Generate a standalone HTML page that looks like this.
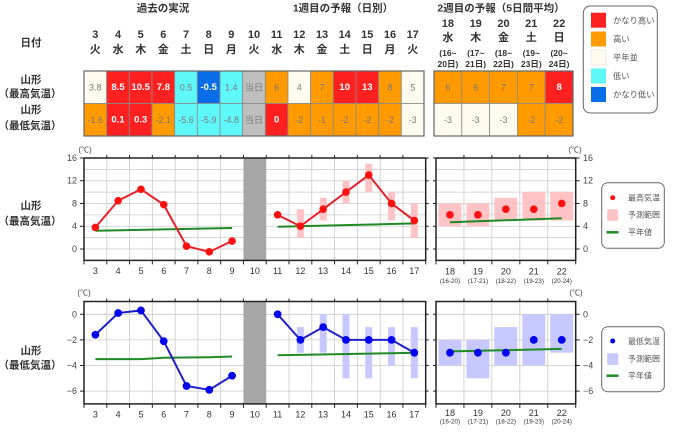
<!DOCTYPE html>
<html><head><meta charset="utf-8">
<style>
html,body{margin:0;padding:0;background:#fff;}
svg{display:block;font-family:"Liberation Sans","Noto Sans CJK JP",sans-serif;}
</style></head>
<body>
<svg width="680" height="434" viewBox="0 0 680 434" xmlns="http://www.w3.org/2000/svg">
<rect width="680" height="434" fill="#fff"/>

<!-- Section titles -->
<g font-size="10.5" font-weight="bold" fill="#333" text-anchor="middle" dominant-baseline="central">
<text x="163" y="8.5">過去の実況</text>
<text x="343" y="8.5">1週目の予報（日別）</text>
<text x="501" y="8.5">2週目の予報（5日間平均）</text>
<text x="31" y="43">日付</text>
</g>

<!-- Day headers table 1 -->
<g font-size="11" font-weight="bold" fill="#333" text-anchor="middle" dominant-baseline="central">
<text x="95.3" y="35">3</text><text x="95.3" y="50">火</text>
<text x="118" y="35">4</text><text x="118" y="50">水</text>
<text x="140.7" y="35">5</text><text x="140.7" y="50">木</text>
<text x="163.3" y="35">6</text><text x="163.3" y="50">金</text>
<text x="186" y="35">7</text><text x="186" y="50">土</text>
<text x="208.7" y="35">8</text><text x="208.7" y="50">日</text>
<text x="231.3" y="35">9</text><text x="231.3" y="50">月</text>
<text x="254" y="35">10</text><text x="254" y="50">火</text>
<text x="276.7" y="35">11</text><text x="276.7" y="50">水</text>
<text x="299.3" y="35">12</text><text x="299.3" y="50">木</text>
<text x="322" y="35">13</text><text x="322" y="50">金</text>
<text x="344.7" y="35">14</text><text x="344.7" y="50">土</text>
<text x="367.3" y="35">15</text><text x="367.3" y="50">日</text>
<text x="390" y="35">16</text><text x="390" y="50">月</text>
<text x="412.7" y="35">17</text><text x="412.7" y="50">火</text>
</g>
<!-- Day headers table 2 -->
<g font-weight="bold" fill="#333" text-anchor="middle" dominant-baseline="central">
<g font-size="11">
<text x="447.9" y="24">18</text><text x="447.9" y="38">水</text>
<text x="475.7" y="24">19</text><text x="475.7" y="38">木</text>
<text x="503.5" y="24">20</text><text x="503.5" y="38">金</text>
<text x="531.3" y="24">21</text><text x="531.3" y="38">土</text>
<text x="559.1" y="24">22</text><text x="559.1" y="38">日</text>
</g>
<g font-size="8.5">
<text x="447.9" y="53">(16~</text><text x="447.9" y="64">20日)</text>
<text x="475.7" y="53">(17~</text><text x="475.7" y="64">21日)</text>
<text x="503.5" y="53">(18~</text><text x="503.5" y="64">22日)</text>
<text x="531.3" y="53">(19~</text><text x="531.3" y="64">23日)</text>
<text x="559.1" y="53">(20~</text><text x="559.1" y="64">24日)</text>
</g>
</g>

<!-- Row labels -->
<g font-size="10.5" font-weight="bold" fill="#333" text-anchor="middle" dominant-baseline="central">
<text x="31" y="80">山形</text><text x="30" y="94">（最高気温）</text>
<text x="31" y="110">山形</text><text x="30" y="126">（最低気温）</text>
<text x="31" y="206">山形</text><text x="30" y="221.5">（最高気温）</text>
<text x="31" y="351">山形</text><text x="30" y="365.5">（最低気温）</text>
</g>

<!-- Table 1 cells -->
<g stroke="#8a8a8a" stroke-width="0.8">
<rect x="84" y="71" width="22.67" height="32.5" fill="#fffcef"/>
<rect x="106.67" y="71" width="22.67" height="32.5" fill="#ff2020"/>
<rect x="129.33" y="71" width="22.67" height="32.5" fill="#ff2020"/>
<rect x="152" y="71" width="22.67" height="32.5" fill="#ff2020"/>
<rect x="174.67" y="71" width="22.67" height="32.5" fill="#5ff8f8"/>
<rect x="197.33" y="71" width="22.67" height="32.5" fill="#0a6de8"/>
<rect x="220" y="71" width="22.67" height="32.5" fill="#5ff8f8"/>
<rect x="242.67" y="71" width="22.67" height="32.5" fill="#bfbfbf"/>
<rect x="265.33" y="71" width="22.67" height="32.5" fill="#ff9a00"/>
<rect x="288" y="71" width="22.67" height="32.5" fill="#fffcef"/>
<rect x="310.67" y="71" width="22.67" height="32.5" fill="#ff9a00"/>
<rect x="333.33" y="71" width="22.67" height="32.5" fill="#ff2020"/>
<rect x="356" y="71" width="22.67" height="32.5" fill="#ff2020"/>
<rect x="378.67" y="71" width="22.67" height="32.5" fill="#ff9a00"/>
<rect x="401.33" y="71" width="22.67" height="32.5" fill="#fffcef"/>

<rect x="84" y="103.5" width="22.67" height="32.5" fill="#ff9a00"/>
<rect x="106.67" y="103.5" width="22.67" height="32.5" fill="#ff2020"/>
<rect x="129.33" y="103.5" width="22.67" height="32.5" fill="#ff2020"/>
<rect x="152" y="103.5" width="22.67" height="32.5" fill="#ff9a00"/>
<rect x="174.67" y="103.5" width="22.67" height="32.5" fill="#5ff8f8"/>
<rect x="197.33" y="103.5" width="22.67" height="32.5" fill="#5ff8f8"/>
<rect x="220" y="103.5" width="22.67" height="32.5" fill="#5ff8f8"/>
<rect x="242.67" y="103.5" width="22.67" height="32.5" fill="#bfbfbf"/>
<rect x="265.33" y="103.5" width="22.67" height="32.5" fill="#ff2020"/>
<rect x="288" y="103.5" width="22.67" height="32.5" fill="#ff9a00"/>
<rect x="310.67" y="103.5" width="22.67" height="32.5" fill="#ff9a00"/>
<rect x="333.33" y="103.5" width="22.67" height="32.5" fill="#ff9a00"/>
<rect x="356" y="103.5" width="22.67" height="32.5" fill="#ff9a00"/>
<rect x="378.67" y="103.5" width="22.67" height="32.5" fill="#ff9a00"/>
<rect x="401.33" y="103.5" width="22.67" height="32.5" fill="#fffcef"/>
</g>
<rect x="84" y="71" width="340" height="65" fill="none" stroke="#666" stroke-width="1.2"/>

<!-- Table 2 cells -->
<g stroke="#8a8a8a" stroke-width="0.8">
<rect x="434" y="71" width="27.8" height="32.5" fill="#ff9a00"/>
<rect x="461.8" y="71" width="27.8" height="32.5" fill="#ff9a00"/>
<rect x="489.6" y="71" width="27.8" height="32.5" fill="#ff9a00"/>
<rect x="517.4" y="71" width="27.8" height="32.5" fill="#ff9a00"/>
<rect x="545.2" y="71" width="27.8" height="32.5" fill="#ff2020"/>
<rect x="434" y="103.5" width="27.8" height="32.5" fill="#fffcef"/>
<rect x="461.8" y="103.5" width="27.8" height="32.5" fill="#fffcef"/>
<rect x="489.6" y="103.5" width="27.8" height="32.5" fill="#fffcef"/>
<rect x="517.4" y="103.5" width="27.8" height="32.5" fill="#ff9a00"/>
<rect x="545.2" y="103.5" width="27.8" height="32.5" fill="#ff9a00"/>
</g>
<rect x="434" y="71" width="139" height="65" fill="none" stroke="#666" stroke-width="1.2"/>

<!-- Table text -->
<g font-size="9" text-anchor="middle" dominant-baseline="central">
<g fill="#7a7a7a">
<text x="95.3" y="87.5">3.8</text>
<text x="186" y="87.5">0.5</text>
<text x="231.3" y="87.5">1.4</text>
<text x="254" y="87.5">当日</text>
<text x="276.7" y="87.5">6</text>
<text x="299.3" y="87.5">4</text>
<text x="322" y="87.5">7</text>
<text x="390" y="87.5">8</text>
<text x="412.7" y="87.5">5</text>
<text x="95.3" y="120">-1.6</text>
<text x="163.3" y="120">-2.1</text>
<text x="186" y="120">-5.6</text>
<text x="208.7" y="120">-5.9</text>
<text x="231.3" y="120">-4.8</text>
<text x="254" y="120">当日</text>
<text x="299.3" y="120">-2</text>
<text x="322" y="120">-1</text>
<text x="344.7" y="120">-2</text>
<text x="367.3" y="120">-2</text>
<text x="390" y="120">-2</text>
<text x="412.7" y="120">-3</text>
<text x="447.9" y="87.5">6</text>
<text x="475.7" y="87.5">6</text>
<text x="503.5" y="87.5">7</text>
<text x="531.3" y="87.5">7</text>
<text x="447.9" y="120">-3</text>
<text x="475.7" y="120">-3</text>
<text x="503.5" y="120">-3</text>
<text x="531.3" y="120">-2</text>
<text x="559.1" y="120">-2</text>
</g>
<g fill="#fff" font-weight="bold" font-size="9.5">
<text x="118" y="87.5">8.5</text>
<text x="140.7" y="87.5">10.5</text>
<text x="163.3" y="87.5">7.8</text>
<text x="208.7" y="87.5">-0.5</text>
<text x="344.7" y="87.5">10</text>
<text x="367.3" y="87.5">13</text>
<text x="559.1" y="87.5">8</text>
<text x="118" y="120">0.1</text>
<text x="140.7" y="120">0.3</text>
<text x="276.7" y="120">0</text>
</g>
</g>

<!-- Top legend -->
<rect x="583.3" y="6" width="74" height="107" rx="7" fill="#fff" stroke="#666" stroke-width="1"/>
<rect x="591" y="12.7" width="15" height="15" fill="#ff2020"/>
<rect x="591" y="31.5" width="15" height="15" fill="#ff9a00"/>
<rect x="591" y="50" width="15" height="15" fill="#fffcef" stroke="#ddd" stroke-width="0.6"/>
<rect x="591" y="68.5" width="15" height="15" fill="#5ff8f8"/>
<rect x="591" y="87" width="15" height="15" fill="#0a6de8"/>
<g font-size="8.3" fill="#555" dominant-baseline="central">
<text x="613" y="20.5">かなり高い</text>
<text x="613" y="39">高い</text>
<text x="613" y="57.5">平年並</text>
<text x="613" y="76">低い</text>
<text x="613" y="94.5">かなり低い</text>
</g>

<!-- ================= UPPER CHART ================= -->
<g font-size="8" fill="#444" text-anchor="middle" dominant-baseline="central">
<text x="85" y="150">(℃)</text>
<text x="575" y="150">(℃)</text>
<text x="84" y="293">(℃)</text>
<text x="576" y="293">(℃)</text>
</g>
<!-- gridlines -->
<g stroke="#c9c9c9" stroke-width="0.8">
<line x1="84" x2="425.7" y1="169.34" y2="169.34"/>
<line x1="84" x2="425.7" y1="180.72" y2="180.72"/>
<line x1="84" x2="425.7" y1="192.1" y2="192.1"/>
<line x1="84" x2="425.7" y1="203.48" y2="203.48"/>
<line x1="84" x2="425.7" y1="214.86" y2="214.86"/>
<line x1="84" x2="425.7" y1="226.24" y2="226.24"/>
<line x1="84" x2="425.7" y1="237.62" y2="237.62"/>
<line x1="84" x2="425.7" y1="249" y2="249"/>
<line x1="436" x2="575.7" y1="169.34" y2="169.34"/>
<line x1="436" x2="575.7" y1="180.72" y2="180.72"/>
<line x1="436" x2="575.7" y1="192.1" y2="192.1"/>
<line x1="436" x2="575.7" y1="203.48" y2="203.48"/>
<line x1="436" x2="575.7" y1="214.86" y2="214.86"/>
<line x1="436" x2="575.7" y1="226.24" y2="226.24"/>
<line x1="436" x2="575.7" y1="237.62" y2="237.62"/>
<line x1="436" x2="575.7" y1="249" y2="249"/>
<line x1="106.78" x2="106.78" y1="158" y2="260.4"/>
<line x1="129.56" x2="129.56" y1="158" y2="260.4"/>
<line x1="152.34" x2="152.34" y1="158" y2="260.4"/>
<line x1="175.12" x2="175.12" y1="158" y2="260.4"/>
<line x1="197.9" x2="197.9" y1="158" y2="260.4"/>
<line x1="220.68" x2="220.68" y1="158" y2="260.4"/>
<line x1="289.02" x2="289.02" y1="158" y2="260.4"/>
<line x1="311.8" x2="311.8" y1="158" y2="260.4"/>
<line x1="334.58" x2="334.58" y1="158" y2="260.4"/>
<line x1="357.36" x2="357.36" y1="158" y2="260.4"/>
<line x1="380.14" x2="380.14" y1="158" y2="260.4"/>
<line x1="402.92" x2="402.92" y1="158" y2="260.4"/>
<line x1="463.94" x2="463.94" y1="158" y2="260.4"/>
<line x1="491.88" x2="491.88" y1="158" y2="260.4"/>
<line x1="519.82" x2="519.82" y1="158" y2="260.4"/>
<line x1="547.76" x2="547.76" y1="158" y2="260.4"/>
</g>
<rect x="243.46" y="158" width="22.78" height="102.4" fill="#a6a6a6"/>
<!-- ticks -->
<g stroke="#222" stroke-width="1">
<path d="M106.78 158v-3M129.56 158v-3M152.34 158v-3M175.12 158v-3M197.9 158v-3M220.68 158v-3M243.46 158v-3M266.24 158v-3M289.02 158v-3M311.8 158v-3M334.58 158v-3M357.36 158v-3M380.14 158v-3M402.92 158v-3M463.94 158v-3M491.88 158v-3M519.82 158v-3M547.76 158v-3"/>
<path d="M84 260.4v4M106.78 260.4v4M129.56 260.4v4M152.34 260.4v4M175.12 260.4v4M197.9 260.4v4M220.68 260.4v4M243.46 260.4v4M266.24 260.4v4M289.02 260.4v4M311.8 260.4v4M334.58 260.4v4M357.36 260.4v4M380.14 260.4v4M402.92 260.4v4M425.7 260.4v4M436 260.4v4M463.94 260.4v4M491.88 260.4v4M519.82 260.4v4M547.76 260.4v4M575.7 260.4v4"/>
<path d="M80 157.96h4M80 180.72h4M80 203.48h4M80 226.24h4M80 249h4"/>
<path d="M425.7 157.96h3M425.7 180.72h3M425.7 203.48h3M425.7 226.24h3M425.7 249h3"/>
<path d="M433 157.96h3M433 180.72h3M433 203.48h3M433 226.24h3M433 249h3"/>
<path d="M575.7 157.96h4M575.7 180.72h4M575.7 203.48h4M575.7 226.24h4M575.7 249h4"/>
</g>
<rect x="84" y="158" width="341.7" height="102.4" fill="none" stroke="#222" stroke-width="1.5"/>
<rect x="436" y="158" width="139.7" height="102.4" fill="none" stroke="#222" stroke-width="1.5"/>

<!-- y labels -->
<g font-size="9" fill="#444" dominant-baseline="central">
<g text-anchor="end">
<text x="77" y="158">16</text><text x="77" y="180.7">12</text><text x="77" y="203.5">8</text><text x="77" y="226.2">4</text><text x="77" y="249">0</text>
</g>
<g text-anchor="start">
<text x="583" y="158">16</text><text x="583" y="180.7">12</text><text x="583" y="203.5">8</text><text x="583" y="226.2">4</text><text x="583" y="249">0</text>
</g>
</g>

<!-- ranges -->
<g fill="#ffc3c6">
<rect x="296.9" y="209.17" width="7" height="28.45"/>
<rect x="319.7" y="197.79" width="7" height="22.76"/>
<rect x="342.5" y="180.72" width="7" height="22.76"/>
<rect x="365.25" y="163.65" width="7" height="28.45"/>
<rect x="388" y="192.1" width="7" height="28.45"/>
<rect x="410.8" y="203.48" width="7" height="34.14"/>
<rect x="438.5" y="203.48" width="23" height="22.76"/>
<rect x="466.4" y="203.48" width="23" height="22.76"/>
<rect x="494.3" y="197.79" width="23" height="22.76"/>
<rect x="522.3" y="192.1" width="23" height="28.45"/>
<rect x="550.2" y="192.1" width="23" height="28.45"/>
</g>
<!-- normals -->
<g stroke="#1f8a24" stroke-width="2" fill="none">
<polyline points="95.39,230.79 232.07,227.95"/>
<polyline points="277.63,226.81 414.31,223.4"/>
<polyline points="449.97,222.26 561.73,218.27"/>
</g>
<!-- max temp lines -->
<g stroke="#e8202a" stroke-width="2" fill="none">
<polyline points="95.39,227.38 118.17,200.64 140.95,189.26 163.73,204.62 186.51,246.16 209.29,251.85 232.07,241.03"/>
<polyline points="277.63,214.86 300.41,226.24 323.19,209.17 345.97,192.1 368.75,175.03 391.53,203.48 414.31,220.55"/>
</g>
<g fill="#ff1010">
<circle cx="95.39" cy="227.38" r="3.8"/><circle cx="118.17" cy="200.64" r="3.8"/><circle cx="140.95" cy="189.26" r="3.8"/><circle cx="163.73" cy="204.62" r="3.8"/><circle cx="186.51" cy="246.16" r="3.8"/><circle cx="209.29" cy="251.85" r="3.8"/><circle cx="232.07" cy="241.03" r="3.8"/>
<circle cx="277.63" cy="214.86" r="3.8"/><circle cx="300.41" cy="226.24" r="3.8"/><circle cx="323.19" cy="209.17" r="3.8"/><circle cx="345.97" cy="192.1" r="3.8"/><circle cx="368.75" cy="175.03" r="3.8"/><circle cx="391.53" cy="203.48" r="3.8"/><circle cx="414.31" cy="220.55" r="3.8"/>
<circle cx="449.97" cy="214.86" r="3.8"/><circle cx="477.91" cy="214.86" r="3.8"/><circle cx="505.85" cy="209.17" r="3.8"/><circle cx="533.79" cy="209.17" r="3.8"/><circle cx="561.73" cy="203.48" r="3.8"/>
</g>

<!-- x labels upper -->
<g font-size="9" fill="#333" text-anchor="middle" dominant-baseline="central">
<text x="95.39" y="271">3</text><text x="118.17" y="271">4</text><text x="140.95" y="271">5</text><text x="163.73" y="271">6</text><text x="186.51" y="271">7</text><text x="209.29" y="271">8</text><text x="232.07" y="271">9</text><text x="254.85" y="271">10</text><text x="277.63" y="271">11</text><text x="300.41" y="271">12</text><text x="323.19" y="271">13</text><text x="345.97" y="271">14</text><text x="368.75" y="271">15</text><text x="391.53" y="271">16</text><text x="414.31" y="271">17</text>
<text x="449.97" y="271.5">18</text><text x="477.91" y="271.5">19</text><text x="505.85" y="271.5">20</text><text x="533.79" y="271.5">21</text><text x="561.73" y="271.5">22</text>
<g font-size="6.3">
<text x="449.97" y="281.7">(16-20)</text><text x="477.91" y="281.7">(17-21)</text><text x="505.85" y="281.7">(18-22)</text><text x="533.79" y="281.7">(19-23)</text><text x="561.73" y="281.7">(20-24)</text>
</g>
</g>

<!-- upper legend -->
<rect x="601.7" y="182.7" width="62.6" height="65.6" rx="6" fill="#fff" stroke="#666" stroke-width="1"/>
<circle cx="612.7" cy="197.7" r="2.5" fill="#ff1010"/>
<rect x="607.2" y="209.3" width="11" height="11.5" fill="#ffc3c6"/>
<line x1="606.5" x2="618.5" y1="232.3" y2="232.3" stroke="#1f8a24" stroke-width="2.5"/>
<g font-size="8" fill="#555" dominant-baseline="central">
<text x="628" y="198">最高気温</text>
<text x="628" y="215">予測範囲</text>
<text x="628" y="232.5">平年値</text>
</g>

<!-- ================= LOWER CHART ================= -->
<g stroke="#c9c9c9" stroke-width="0.8">
<line x1="84" x2="425.7" y1="314.3" y2="314.3"/>
<line x1="84" x2="425.7" y1="339.9" y2="339.9"/>
<line x1="84" x2="425.7" y1="365.5" y2="365.5"/>
<line x1="84" x2="425.7" y1="391.1" y2="391.1"/>
<line x1="436" x2="575.7" y1="314.3" y2="314.3"/>
<line x1="436" x2="575.7" y1="339.9" y2="339.9"/>
<line x1="436" x2="575.7" y1="365.5" y2="365.5"/>
<line x1="436" x2="575.7" y1="391.1" y2="391.1"/>
<line x1="106.78" x2="106.78" y1="301.5" y2="403.9"/>
<line x1="129.56" x2="129.56" y1="301.5" y2="403.9"/>
<line x1="152.34" x2="152.34" y1="301.5" y2="403.9"/>
<line x1="175.12" x2="175.12" y1="301.5" y2="403.9"/>
<line x1="197.9" x2="197.9" y1="301.5" y2="403.9"/>
<line x1="220.68" x2="220.68" y1="301.5" y2="403.9"/>
<line x1="289.02" x2="289.02" y1="301.5" y2="403.9"/>
<line x1="311.8" x2="311.8" y1="301.5" y2="403.9"/>
<line x1="334.58" x2="334.58" y1="301.5" y2="403.9"/>
<line x1="357.36" x2="357.36" y1="301.5" y2="403.9"/>
<line x1="380.14" x2="380.14" y1="301.5" y2="403.9"/>
<line x1="402.92" x2="402.92" y1="301.5" y2="403.9"/>
<line x1="463.94" x2="463.94" y1="301.5" y2="403.9"/>
<line x1="491.88" x2="491.88" y1="301.5" y2="403.9"/>
<line x1="519.82" x2="519.82" y1="301.5" y2="403.9"/>
<line x1="547.76" x2="547.76" y1="301.5" y2="403.9"/>
</g>
<rect x="243.46" y="301.5" width="22.78" height="102.4" fill="#a6a6a6"/>
<g stroke="#222" stroke-width="1">
<path d="M106.78 301.5v-3M129.56 301.5v-3M152.34 301.5v-3M175.12 301.5v-3M197.9 301.5v-3M220.68 301.5v-3M243.46 301.5v-3M266.24 301.5v-3M289.02 301.5v-3M311.8 301.5v-3M334.58 301.5v-3M357.36 301.5v-3M380.14 301.5v-3M402.92 301.5v-3M463.94 301.5v-3M491.88 301.5v-3M519.82 301.5v-3M547.76 301.5v-3"/>
<path d="M84 403.9v4M106.78 403.9v4M129.56 403.9v4M152.34 403.9v4M175.12 403.9v4M197.9 403.9v4M220.68 403.9v4M243.46 403.9v4M266.24 403.9v4M289.02 403.9v4M311.8 403.9v4M334.58 403.9v4M357.36 403.9v4M380.14 403.9v4M402.92 403.9v4M425.7 403.9v4M436 403.9v4M463.94 403.9v4M491.88 403.9v4M519.82 403.9v4M547.76 403.9v4M575.7 403.9v4"/>
<path d="M80 314.3h4M80 339.9h4M80 365.5h4M80 391.1h4"/>
<path d="M425.7 314.3h3M425.7 339.9h3M425.7 365.5h3M425.7 391.1h3"/>
<path d="M433 314.3h3M433 339.9h3M433 365.5h3M433 391.1h3"/>
<path d="M575.7 314.3h4M575.7 339.9h4M575.7 365.5h4M575.7 391.1h4"/>
</g>
<rect x="84" y="301.5" width="341.7" height="102.4" fill="none" stroke="#222" stroke-width="1.5"/>
<rect x="436" y="301.5" width="139.7" height="102.4" fill="none" stroke="#222" stroke-width="1.5"/>

<g font-size="9" fill="#444" dominant-baseline="central">
<g text-anchor="end">
<text x="77" y="314.3">0</text><text x="77" y="339.9">−2</text><text x="77" y="365.5">−4</text><text x="77" y="391.1">−6</text>
</g>
<g text-anchor="start">
<text x="583" y="314.3">0</text><text x="583" y="339.9">−2</text><text x="583" y="365.5">−4</text><text x="583" y="391.1">−6</text>
</g>
</g>

<g fill="#c6c8ff">
<rect x="296.9" y="327.1" width="7" height="25.6"/>
<rect x="319.7" y="314.3" width="7" height="38.4"/>
<rect x="342.5" y="314.3" width="7" height="64"/>
<rect x="365.25" y="327.1" width="7" height="51.2"/>
<rect x="388" y="327.1" width="7" height="38.4"/>
<rect x="410.8" y="327.1" width="7" height="51.2"/>
<rect x="438.5" y="339.9" width="23" height="25.6"/>
<rect x="466.4" y="339.9" width="23" height="38.4"/>
<rect x="494.3" y="327.1" width="23" height="38.4"/>
<rect x="522.3" y="314.3" width="23" height="51.2"/>
<rect x="550.2" y="314.3" width="23" height="38.4"/>
</g>
<g stroke="#1f8a24" stroke-width="2" fill="none">
<polyline points="95.39,359.1 140.95,359.1 163.73,357.8 209.29,357.2 232.07,356.54"/>
<polyline points="277.63,355.26 391.53,353.2 414.31,352.7"/>
<polyline points="449.97,351.42 561.73,348.86"/>
</g>
<g stroke="#2020c8" stroke-width="2" fill="none">
<polyline points="95.39,334.78 118.17,313.02 140.95,310.46 163.73,341.18 186.51,385.98 209.29,389.82 232.07,375.74"/>
<polyline points="277.63,314.3 300.41,339.9 323.19,327.1 345.97,339.9 368.75,339.9 391.53,339.9 414.31,352.7"/>
</g>
<g fill="#0000f0">
<circle cx="95.39" cy="334.78" r="3.9"/><circle cx="118.17" cy="313.02" r="3.9"/><circle cx="140.95" cy="310.46" r="3.9"/><circle cx="163.73" cy="341.18" r="3.9"/><circle cx="186.51" cy="385.98" r="3.9"/><circle cx="209.29" cy="389.82" r="3.9"/><circle cx="232.07" cy="375.74" r="3.9"/>
<circle cx="277.63" cy="314.3" r="3.9"/><circle cx="300.41" cy="339.9" r="3.9"/><circle cx="323.19" cy="327.1" r="3.9"/><circle cx="345.97" cy="339.9" r="3.9"/><circle cx="368.75" cy="339.9" r="3.9"/><circle cx="391.53" cy="339.9" r="3.9"/><circle cx="414.31" cy="352.7" r="3.9"/>
<circle cx="449.97" cy="352.7" r="3.9"/><circle cx="477.91" cy="352.7" r="3.9"/><circle cx="505.85" cy="352.7" r="3.9"/><circle cx="533.79" cy="339.9" r="3.9"/><circle cx="561.73" cy="339.9" r="3.9"/>
</g>

<g font-size="9" fill="#333" text-anchor="middle" dominant-baseline="central">
<text x="95.39" y="414.3">3</text><text x="118.17" y="414.3">4</text><text x="140.95" y="414.3">5</text><text x="163.73" y="414.3">6</text><text x="186.51" y="414.3">7</text><text x="209.29" y="414.3">8</text><text x="232.07" y="414.3">9</text><text x="254.85" y="414.3">10</text><text x="277.63" y="414.3">11</text><text x="300.41" y="414.3">12</text><text x="323.19" y="414.3">13</text><text x="345.97" y="414.3">14</text><text x="368.75" y="414.3">15</text><text x="391.53" y="414.3">16</text><text x="414.31" y="414.3">17</text>
<text x="449.97" y="413">18</text><text x="477.91" y="413">19</text><text x="505.85" y="413">20</text><text x="533.79" y="413">21</text><text x="561.73" y="413">22</text>
<g font-size="6.3">
<text x="449.97" y="422">(16-20)</text><text x="477.91" y="422">(17-21)</text><text x="505.85" y="422">(18-22)</text><text x="533.79" y="422">(19-23)</text><text x="561.73" y="422">(20-24)</text>
</g>
</g>

<!-- lower legend -->
<rect x="601.7" y="326.7" width="62.6" height="65" rx="6" fill="#fff" stroke="#666" stroke-width="1"/>
<circle cx="612.7" cy="341" r="2.5" fill="#0000f0"/>
<rect x="607.2" y="353.3" width="11" height="11.5" fill="#c6c8ff"/>
<line x1="606.5" x2="618.5" y1="375.7" y2="375.7" stroke="#1f8a24" stroke-width="2.5"/>
<g font-size="8" fill="#555" dominant-baseline="central">
<text x="628" y="341.5">最低気温</text>
<text x="628" y="359">予測範囲</text>
<text x="628" y="376">平年値</text>
</g>
</svg>
</body></html>
